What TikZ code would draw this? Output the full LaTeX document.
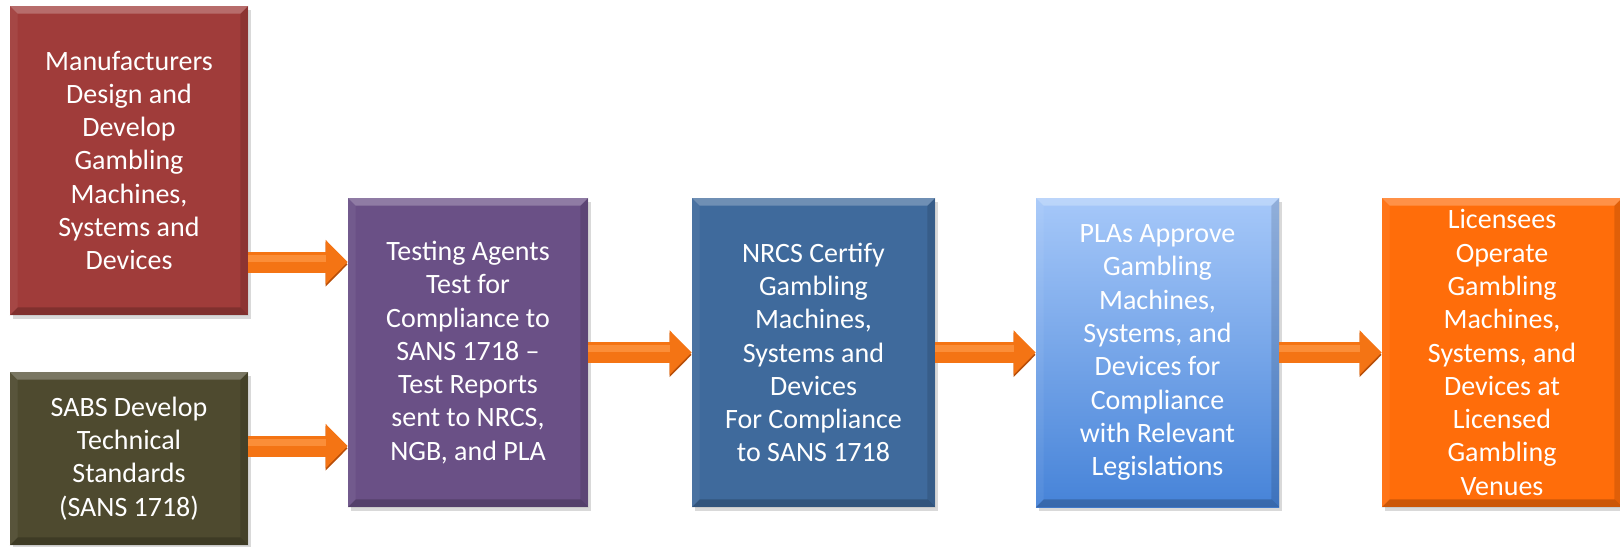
\documentclass[tikz,border=0pt]{standalone}
\usepackage{fontspec}
\setmainfont{Carlito}
\usetikzlibrary{arrows.meta,shadows}
\definecolor{mfrred}{HTML}{A03C3A}
\definecolor{sabsolive}{HTML}{4E4A2F}
\definecolor{testpurple}{HTML}{6A5086}
\definecolor{nrcsblue}{HTML}{3F6A9C}
\definecolor{plastop}{HTML}{A6C8F9}
\definecolor{plasbot}{HTML}{4683D8}
\definecolor{licorange}{HTML}{FF6D0A}
\definecolor{floworange}{HTML}{F47414}
\definecolor{flowdark}{HTML}{B84E08}
\definecolor{flowlight}{HTML}{FF9A48}
\tikzset{stage/.style={minimum width=120pt, minimum height=154.5pt, inner sep=0pt, align=center,
    text=white, font=\fontsize{14}{16.65}\selectfont,
    drop shadow={shadow xshift=1.5pt, shadow yshift=-2pt, opacity=.3}},
  flow/.style={draw=floworange, line width=10.5pt, -{Triangle[length=11pt,width=21.5pt]},
    preaction={draw=flowdark, transform canvas={yshift=-1.2pt}},
    postaction={draw=flowlight, -, line width=3.5pt, shorten >=11pt, opacity=.7, transform canvas={yshift=1.8pt}}}}
% light top edge, dark bottom edge
\newcommand{\bevel}[1]{%
  \fill[white,opacity=.25] (#1.north west) -- (#1.north east) -- ([shift={(-4pt,-4pt)}]#1.north east) -- ([shift={(4pt,-4pt)}]#1.north west) -- cycle;
  \fill[black,opacity=.2] (#1.south west) -- (#1.south east) -- ([shift={(-4pt,4pt)}]#1.south east) -- ([shift={(4pt,4pt)}]#1.south west) -- cycle;
  \fill[black,opacity=.12] (#1.north east) -- (#1.south east) -- ([shift={(-4pt,4pt)}]#1.south east) -- ([shift={(-4pt,-4pt)}]#1.north east) -- cycle;
  \fill[white,opacity=.06] (#1.north west) -- (#1.south west) -- ([shift={(4pt,4pt)}]#1.south west) -- ([shift={(4pt,-4pt)}]#1.north west) -- cycle;}

\begin{document}
\begin{tikzpicture}[x=0.5pt,y=-0.5pt]
\useasboundingbox (0,0) rectangle (1620,546);

\node[stage, fill=mfrred, minimum width=119pt] (mfr) at (129,160.5)
  {Manufacturers\\Design and\\Develop\\Gambling\\Machines,\\Systems and\\Devices};
\node[stage, fill=sabsolive, minimum width=119pt, minimum height=86.5pt] (sabs) at (129,458.5)
  {SABS Develop\\Technical\\Standards\\(SANS 1718)};
\node[stage, fill=testpurple] (testing) at (468,352.5)
  {Testing Agents\\Test for\\Compliance to\\SANS 1718 --\\Test Reports\\sent to NRCS,\\NGB, and PLA};
\node[stage, fill=nrcsblue, minimum width=121.5pt] (nrcs) at (813.5,352.5)
  {NRCS Certify\\Gambling\\Machines,\\Systems and\\Devices\\For Compliance\\to SANS 1718};
\node[stage, top color=plastop, bottom color=plasbot, minimum width=121.5pt] (plas) at (1157.5,352.5)
  {PLAs Approve\\Gambling\\Machines,\\Systems, and\\Devices for\\Compliance\\with Relevant\\Legislations};
\node[stage, fill=licorange] (lic) at (1502,352.5)
  {Licensees\\Operate\\Gambling\\Machines,\\Systems, and\\Devices at\\Licensed\\Gambling\\Venues};

\foreach \b in {mfr,sabs,testing,nrcs,plas,lic}{
  \bevel{\b}
}

\draw[flow] ([yshift=-50.75pt]mfr.east) coordinate (a1) -- (a1 -| testing.west);
\draw[flow] ([yshift=6.25pt]sabs.east) coordinate (a2) -- (a2 -| testing.west);
\draw[flow] (testing.east) -- (nrcs.west);
\draw[flow] (nrcs.east) -- (plas.west);
\draw[flow] (plas.east) -- (lic.west);
\end{tikzpicture}
\end{document}
